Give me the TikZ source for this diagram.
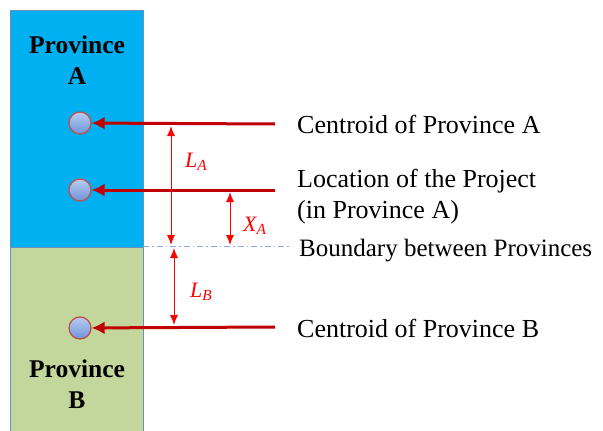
\documentclass[tikz,border=0pt]{standalone}
\usepackage{fontspec}
\setmainfont{Liberation Serif}
\usetikzlibrary{arrows.meta}

\definecolor{provA}{HTML}{00B0F0}
\definecolor{provB}{HTML}{C3D69B}
\definecolor{edgeC}{HTML}{6C8EBF}
\definecolor{darkred}{HTML}{C00000}
\definecolor{dotred}{HTML}{C0504D}
\definecolor{dotlight}{HTML}{B9CDF0}
\definecolor{dotdark}{HTML}{6E93DA}
\definecolor{bndry}{HTML}{8EAADB}

\tikzset{
  point/.style={circle, draw=dotred, line width=1.3pt, minimum size=22pt, inner sep=0pt,
    top color=dotlight, bottom color=dotdark},
  pointer/.style={draw=darkred, line width=3pt, -{Latex[length=13pt,width=13pt]}},
  dist/.style={draw=red, line width=1pt, {Latex[length=10pt,width=8pt]}-{Latex[length=10pt,width=8pt]}},
  label/.style={anchor=base west, inner sep=0pt, font=\fontsize{26}{31}\selectfont},
  provname/.style={align=center, inner sep=0pt, font=\fontsize{25.5}{31}\selectfont\bfseries},
  distname/.style={anchor=base west, inner sep=0pt, text=red, font=\fontsize{22}{26}\selectfont\itshape}
}

\begin{document}
\begin{tikzpicture}[x=1pt, y=-1pt]
    \useasboundingbox (0,0) rectangle (603,431);

    % the two provinces
    \fill[provA] (10,10) rectangle (143,247);
    \fill[provB] (10,247) rectangle (143,431);
    \draw[edgeC, line width=0.8pt] (10,431) -- (10,10) -- (143,10) -- (143,431);
    \draw[edgeC, line width=0.8pt] (10,247) -- (143,247);

    \node[provname] (nameA) at (77,60) {Province\\A};
    \node[provname] (nameB) at (77,384) {Province\\B};

    % points in the provinces
    \node[point] (cenA) at (80,123) {};
    \node[point] (proj) at (80,190) {};
    \node[point] (cenB) at (80,328) {};

    % boundary line
    \coordinate (bL) at (143,246);
    \coordinate (bR) at (290,246);
    \draw[bndry, line width=1pt, dash pattern=on 6pt off 3pt on 1.5pt off 3pt] (bL) -- (bR);

    % pointers
    \coordinate (tA) at (275,124);
    \coordinate (tP) at (275,190);
    \coordinate (tB) at (275,327);
    \draw[pointer] (tA) -- (cenA);
    \draw[pointer] (tP) -- (proj);
    \draw[pointer] (tB) -- (cenB);

    \node[label] (txtA) at (297,133) {Centroid of Province A};
    \node[label] (txtP) at (297,187) {Location of the Project};
    \node[label] (txtP2) at (297,218) {(in Province A)};
    \node[label, font=\fontsize{25}{31}\selectfont] (txtBd) at (299,256) {Boundary between Provinces};
    \node[label] (txtB) at (297,337) {Centroid of Province B};

    % distances
    \coordinate (LAt) at (171,126);
    \coordinate (LAb) at (171,245);
    \coordinate (XAt) at (230,192);
    \coordinate (XAb) at (230,245);
    \coordinate (LBt) at (174,248);
    \coordinate (LBb) at (174,325);
    \draw[dist] (LAt) -- (LAb);
    \draw[dist] (XAt) -- (XAb);
    \draw[dist] (LBt) -- (LBb);

    \node[distname] (lblLA) at (185,167) {L\textsubscript{A}};
    \node[distname] (lblXA) at (243,231) {X\textsubscript{A}};
    \node[distname] (lblLB) at (190,297) {L\textsubscript{B}};
\end{tikzpicture}
\end{document}
